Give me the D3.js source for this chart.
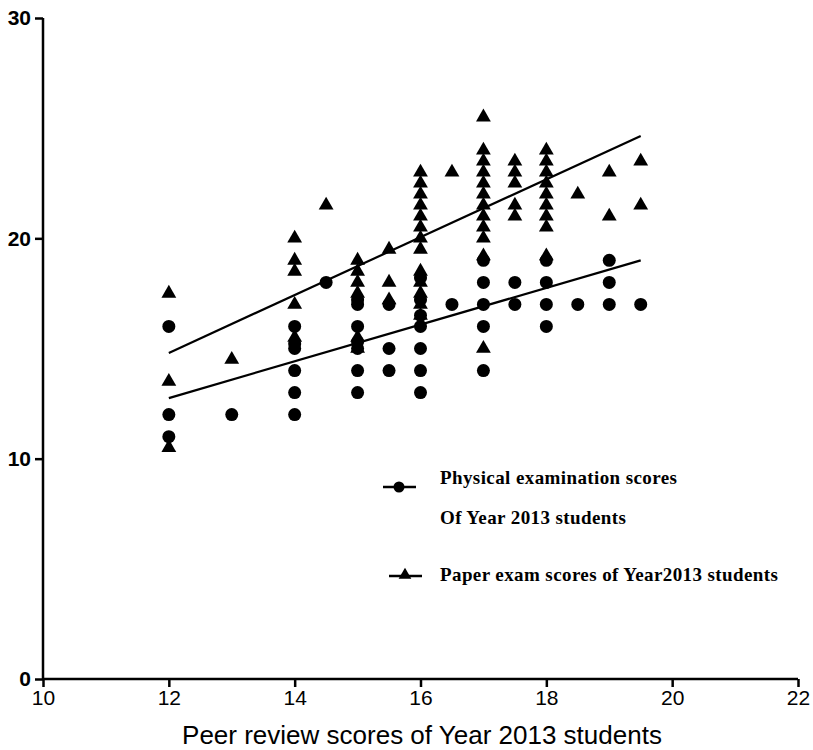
<!DOCTYPE html>
<html>
<head>
<meta charset="utf-8">
<script src="https://cdn.jsdelivr.net/npm/d3@7"></script>
<style>
  html, body { margin: 0; padding: 0; background: #fff; }
  svg text { fill: #000; }
  .ytick text { font: bold 21px "Liberation Sans", Arial, sans-serif; }
  .xtick text { font: 21px "Liberation Sans Narrow", "Liberation Sans", Arial, sans-serif; }
  .xtitle { font: 26px "Liberation Sans Narrow", "Liberation Sans", Arial, sans-serif; }
  .legend text { font: bold 19px "Liberation Serif", "Times New Roman", serif; letter-spacing: 0.4px; }
</style>
</head>
<body>
<div id="chart"></div>
<script>
// Physical examination scores (circles): [peer review score, score]
const physical = [
  [12, 16], [12, 12], [12, 11],
  [13, 12],
  [14, 16], [14, 15.2], [14, 15], [14, 14], [14, 13], [14, 12],
  [14.5, 18],
  [15, 17.2], [15, 17], [15, 16], [15, 15.3], [15, 15], [15, 14], [15, 13],
  [15.5, 17], [15.5, 15], [15.5, 14],
  [16, 18.2], [16, 17.2], [16, 16.5], [16, 16], [16, 15], [16, 14], [16, 13],
  [16.5, 17],
  [17, 19], [17, 18], [17, 17], [17, 16], [17, 14],
  [17.5, 18], [17.5, 17],
  [18, 19], [18, 18], [18, 17], [18, 16],
  [18.5, 17],
  [19, 19], [19, 18], [19, 17],
  [19.5, 17]
];

// Paper exam scores (triangles)
const paper = [
  [12, 17.5], [12, 13.5], [12, 10.5],
  [13, 14.5],
  [14, 20], [14, 19], [14, 18.5], [14, 17], [14, 15.5],
  [14.5, 21.5],
  [15, 19], [15, 18.5], [15, 18], [15, 17.5], [15, 15.5], [15, 15],
  [15.5, 19.5], [15.5, 18], [15.5, 17.2],
  [16, 23], [16, 22.5], [16, 22], [16, 21.5], [16, 21], [16, 20.5], [16, 20], [16, 19.5],
  [16, 18.5], [16, 18], [16, 17.5], [16, 17], [16, 16.5],
  [16.5, 23],
  [17, 25.5], [17, 24], [17, 23.5], [17, 23], [17, 22.5], [17, 22], [17, 21.5], [17, 21],
  [17, 20.5], [17, 20], [17, 19.2], [17, 15],
  [17.5, 23.5], [17.5, 23], [17.5, 22.5], [17.5, 21.5], [17.5, 21],
  [18, 24], [18, 23.5], [18, 23], [18, 22.5], [18, 22], [18, 21.5], [18, 21], [18, 20.5], [18, 19.2],
  [18.5, 22],
  [19, 23], [19, 21],
  [19.5, 23.5], [19.5, 21.5]
];

// Fitted lines (endpoints)
const physicalFit = [[12, 12.75], [19.5, 19.0]];
const paperFit = [[12, 14.8], [19.5, 24.65]];

const xTicks = [10, 12, 14, 16, 18, 20, 22];
const yTicks = [0, 10, 20, 30];

const legendItems = [
  { shape: "circle", lines: ["Physical examination scores", "Of Year 2013 students"] },
  { shape: "triangle", lines: ["Paper exam scores of Year2013 students"] }
];

const W = 813, H = 750;
const svg = d3.select("#chart").append("svg").attr("width", W).attr("height", H);

const x = d3.scaleLinear().domain([10, 22]).range([43, 798]);
const y = d3.scaleLinear().domain([0, 30]).range([679, 18]);

// axes
const gy = svg.append("g").attr("class", "ytick").attr("transform", `translate(${x(10)},0)`)
  .call(d3.axisLeft(y).tickValues(yTicks).tickSize(8).tickPadding(4));
const gx = svg.append("g").attr("class", "xtick").attr("transform", "translate(0,679)")
  .call(d3.axisBottom(x).tickValues(xTicks).tickSize(8).tickPadding(3));
[gy, gx].forEach(g => {
  g.select(".domain").attr("stroke", "#000").attr("stroke-width", 2.5);
  g.selectAll(".tick line").attr("stroke", "#000").attr("stroke-width", 2.5);
});
gy.select(".domain").attr("d", "M0," + y(0) + "V" + y(30));
gx.select(".domain").attr("d", "M" + x(10) + ",0H" + x(22));

svg.append("text").attr("class", "xtitle")
  .attr("x", 422).attr("y", 744).attr("text-anchor", "middle")
  .text("Peer review scores of Year 2013 students");

// fit lines
const line = d3.line().x(d => x(d[0])).y(d => y(d[1]));
[physicalFit, paperFit].forEach(f => {
  svg.append("path").attr("d", line(f)).attr("fill", "none")
    .attr("stroke", "#000").attr("stroke-width", 2.2);
});

// points
const tri = d3.symbol().type(d3.symbolTriangle).size(95);
svg.append("g").selectAll("path").data(paper).join("path")
  .attr("d", tri)
  .attr("transform", d => `translate(${x(d[0])},${y(d[1])})`)
  .attr("fill", "#000");
svg.append("g").selectAll("circle").data(physical).join("circle")
  .attr("cx", d => x(d[0])).attr("cy", d => y(d[1])).attr("r", 6.5)
  .attr("fill", "#000");

// legend
const lg = svg.append("g").attr("class", "legend");
const markerY = [487, 576];
const textY = [[480, 520], [577]];
legendItems.forEach((it, i) => {
  const cy = markerY[i];
  const x0 = i === 0 ? 383 : 389;
  lg.append("line").attr("x1", x0).attr("x2", x0 + 33).attr("y1", cy).attr("y2", cy)
    .attr("stroke", "#000").attr("stroke-width", 2.5);
  if (it.shape === "circle") {
    lg.append("circle").attr("cx", x0 + 16).attr("cy", cy).attr("r", 5.5).attr("fill", "#000");
  } else {
    lg.append("path").attr("d", d3.symbol().type(d3.symbolTriangle).size(70))
      .attr("transform", `translate(${x0 + 16},${cy - 1})`).attr("fill", "#000");
  }
  it.lines.forEach((t, j) => {
    lg.append("text").attr("x", 440).attr("y", textY[i][j])
      .attr("dominant-baseline", "middle").text(t);
  });
});
</script>
</body>
</html>
